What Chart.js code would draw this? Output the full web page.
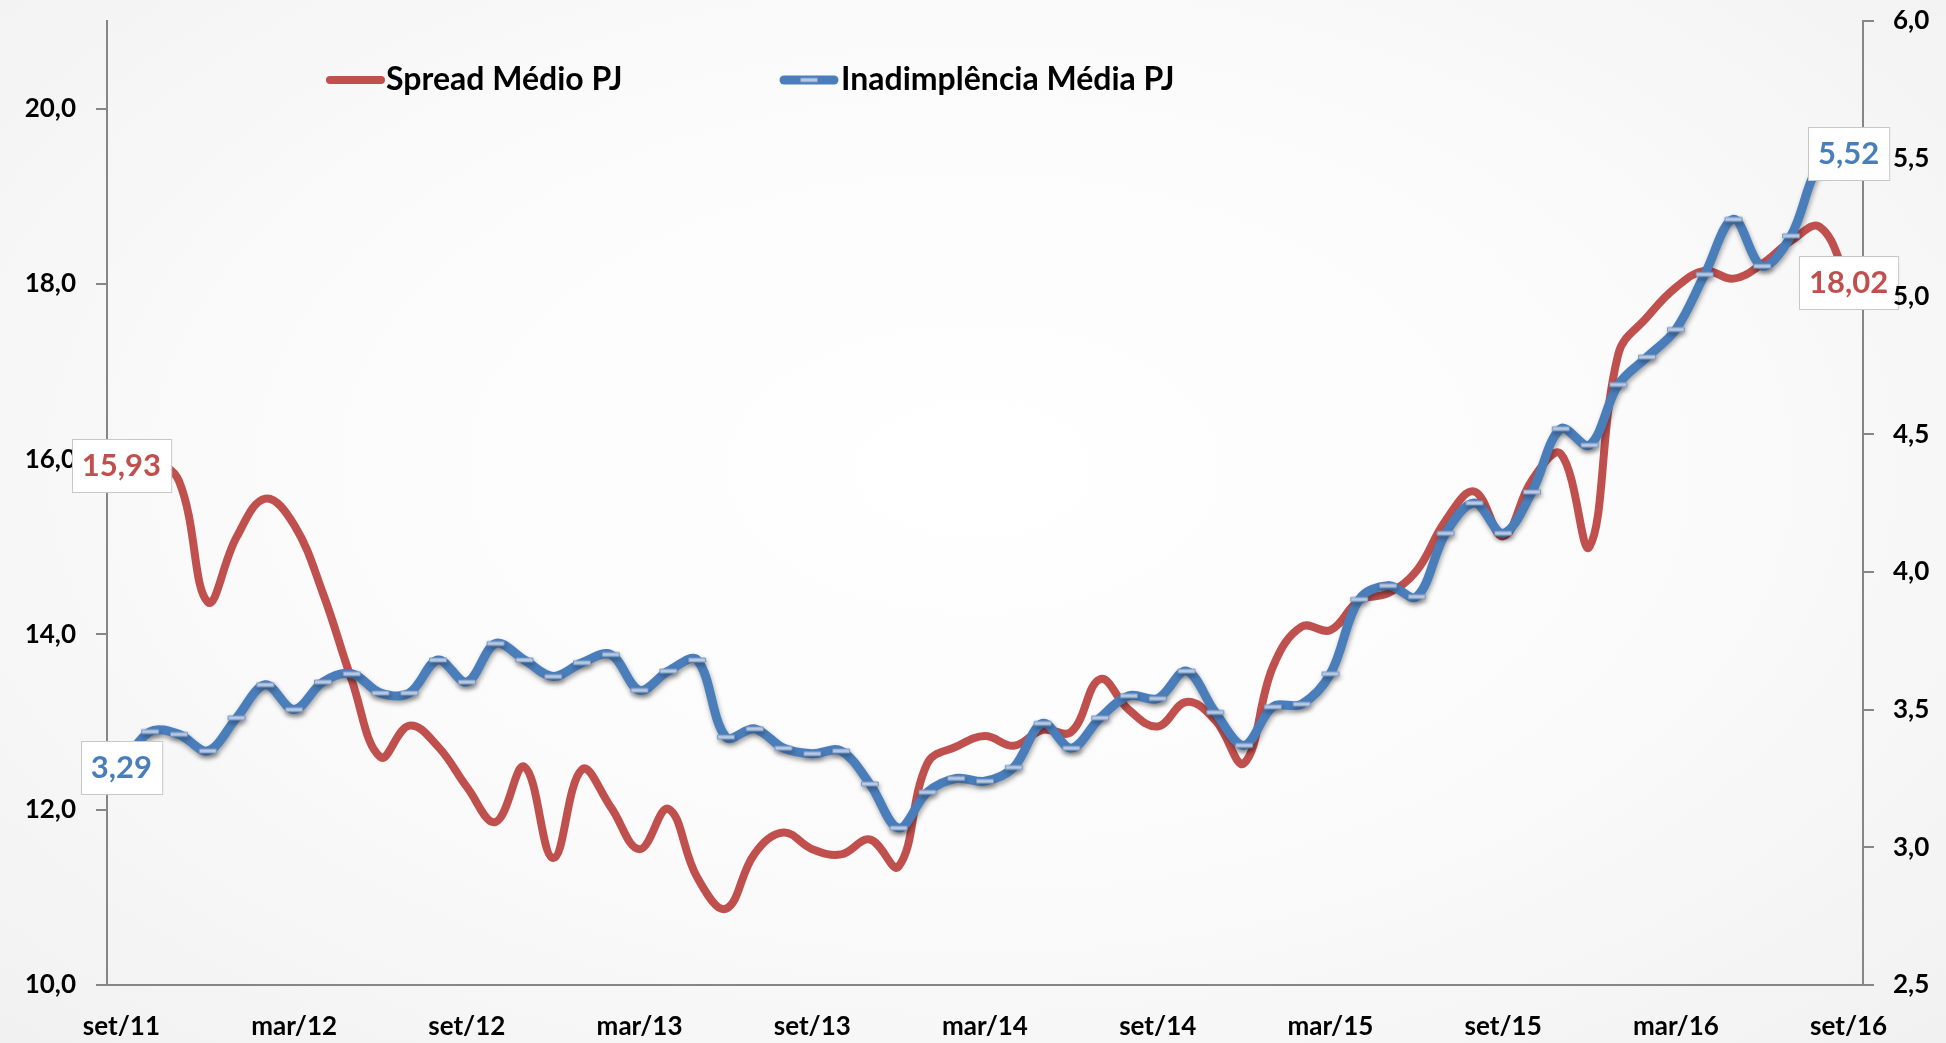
<!DOCTYPE html>
<html lang="pt-BR">
<head>
<meta charset="utf-8">
<title>Spread e Inadimplência Média PJ</title>
<script src="https://cdn.jsdelivr.net/npm/chart.js@4.4.1/dist/chart.umd.min.js"></script>
<style>
  html, body { margin: 0; padding: 0; background: #f4f4f4; }
  #wrap {
    position: relative; width: 1946px; height: 1043px;
    background: radial-gradient(ellipse at 50% 45%, #ffffff 0%, #fbfbfb 50%, #f1f1f1 100%);
  }
  #c { display: block; }
</style>
</head>
<body>
<div id="wrap"><canvas id="c" width="1946" height="1043"></canvas></div>
<script>
// Monthly categories, set/11 .. set/16
const categories = [
  'set/11','out/11','nov/11','dez/11',
  'jan/12','fev/12','mar/12','abr/12','mai/12','jun/12','jul/12','ago/12','set/12','out/12','nov/12','dez/12',
  'jan/13','fev/13','mar/13','abr/13','mai/13','jun/13','jul/13','ago/13','set/13','out/13','nov/13','dez/13',
  'jan/14','fev/14','mar/14','abr/14','mai/14','jun/14','jul/14','ago/14','set/14','out/14','nov/14','dez/14',
  'jan/15','fev/15','mar/15','abr/15','mai/15','jun/15','jul/15','ago/15','set/15','out/15','nov/15','dez/15',
  'jan/16','fev/16','mar/16','abr/16','mai/16','jun/16','jul/16','ago/16','set/16'
];

// Spread médio PJ (% a.a., left axis)
const spreadPJ = [
  15.93, 15.98, 15.75, 14.37, 15.11, 15.55, 15.25, 14.47, 13.48, 12.60,
  12.96, 12.72, 12.26, 11.86, 12.49, 11.45, 12.46, 12.03, 11.55, 12.01,
  11.23, 10.87, 11.50, 11.74, 11.55, 11.49, 11.66, 11.35, 12.53, 12.72,
  12.84, 12.73, 12.91, 12.89, 13.49, 13.14, 12.95, 13.23, 13.02, 12.53,
  13.63, 14.09, 14.05, 14.39, 14.47, 14.73, 15.30, 15.63, 15.12, 15.76,
  16.06, 15.00, 17.20, 17.62, 17.96, 18.15, 18.06, 18.23, 18.49, 18.65,
  18.02
];

// Inadimplência média PJ (%, right axis)
const inadPJ = [
  3.29, 3.42, 3.41, 3.35, 3.47, 3.59, 3.50, 3.60, 3.63, 3.56,
  3.56, 3.68, 3.60, 3.74, 3.68, 3.62, 3.67, 3.70, 3.57, 3.64,
  3.68, 3.40, 3.43, 3.36, 3.34, 3.35, 3.23, 3.07, 3.20, 3.25,
  3.24, 3.29, 3.45, 3.36, 3.47, 3.55, 3.54, 3.64, 3.49, 3.37,
  3.51, 3.52, 3.63, 3.90, 3.95, 3.91, 4.14, 4.25, 4.14, 4.29,
  4.52, 4.46, 4.68, 4.78, 4.88, 5.08, 5.28, 5.11, 5.22, 5.48,
  5.52
];

// Axis tick values and shown month labels
const leftTicks  = [10, 12, 14, 16, 18, 20];
const rightTicks = [2.5, 3.0, 3.5, 4.0, 4.5, 5.0, 5.5, 6.0];
const xTickLabels = ['set/11','mar/12','set/12','mar/13','set/13','mar/14','set/14','mar/15','set/15','mar/16','set/16'];

const seriesNames = ['Spread Médio PJ', 'Inadimplência Média PJ'];

const RED = '#c0504d';
const BLUE = '#4a7ebb';
const AXIS = '#868686';
const FONT = 'Lato, "Open Sans", sans-serif';

const fmt = v => v.toFixed(1).replace('.', ',');
const fmt2 = v => v.toFixed(2).replace('.', ',');

// dash-shaped marker for the blue series
function dashMarker() {
  const c = document.createElement('canvas');
  c.width = 22; c.height = 8;
  const g = c.getContext('2d');
  g.fillStyle = '#b7c9e3';
  g.strokeStyle = '#7898c4';
  g.lineWidth = 1;
  g.beginPath();
  g.rect(2.5, 2, 17, 4);
  g.fill();
  g.stroke();
  return c;
}
const marker = dashMarker();

// soft drop shadow under the blue line
const shadowPlugin = {
  id: 'lineShadow',
  beforeDatasetDraw(chart, args) {
    if (args.index !== 1) return;
    const ctx = chart.ctx;
    ctx.save();
    ctx.shadowColor = 'rgba(0,0,0,0.35)';
    ctx.shadowBlur = 5;
    ctx.shadowOffsetX = 1;
    ctx.shadowOffsetY = 3;
  },
  afterDatasetDraw(chart, args) {
    if (args.index !== 1) return;
    chart.ctx.restore();
  }
};

// legend inside the plot, top
const legendPlugin = {
  id: 'inlineLegend',
  afterDraw(chart) {
    const ctx = chart.ctx;
    ctx.save();
    ctx.lineCap = 'round';
    ctx.strokeStyle = RED; ctx.lineWidth = 8;
    ctx.beginPath(); ctx.moveTo(330, 80); ctx.lineTo(381, 80); ctx.stroke();
    ctx.strokeStyle = BLUE; ctx.lineWidth = 9;
    ctx.beginPath(); ctx.moveTo(784, 80); ctx.lineTo(834, 80); ctx.stroke();
    ctx.drawImage(marker, 809 - marker.width / 2, 80 - marker.height / 2);
    ctx.fillStyle = '#000';
    ctx.font = 'bold 32px ' + FONT;
    ctx.textBaseline = 'middle';
    ctx.textAlign = 'left';
    ctx.fillText(seriesNames[0], 386, 80);
    ctx.fillText(seriesNames[1], 841, 80);
    ctx.restore();
  }
};

// value boxes on the first and last points of each series
// (drawn right after the lines, so right-axis labels stay on top)
const endLabelPlugin = {
  id: 'endLabels',
  afterDatasetsDraw(chart) {
    const ctx = chart.ctx;
    ctx.save();
    ctx.font = 'bold 31px ' + FONT;
    ctx.textAlign = 'center';
    ctx.textBaseline = 'middle';
    chart.data.datasets.forEach((ds, di) => {
      const meta = chart.getDatasetMeta(di);
      [0, ds.data.length - 1].forEach(i => {
        const pt = meta.data[i];
        const txt = fmt2(ds.data[i]);
        const w = ctx.measureText(txt).width + 20;
        const h = 53;
        const x = Math.round(pt.x - w / 2) + 0.5;
        const y = Math.round(pt.y - h / 2) + 0.5;
        ctx.fillStyle = '#ffffff';
        ctx.fillRect(x, y, w, h);
        ctx.strokeStyle = '#c8c8c8';
        ctx.lineWidth = 1;
        ctx.strokeRect(x, y, w, h);
        ctx.fillStyle = ds.borderColor;
        ctx.fillText(txt, pt.x, pt.y + 1);
      });
    });
    ctx.restore();
  }
};

const tickFont = { family: FONT, size: 26, weight: 'bold' };

// vertical axes: fixed width, no extra top/bottom label padding
const fitY = width => s => { s.width = width; s.paddingTop = 0; s.paddingBottom = 0; };

new Chart(document.getElementById('c'), {
  type: 'line',
  data: {
    labels: categories,
    datasets: [
      {
        label: seriesNames[0],
        data: spreadPJ,
        yAxisID: 'yL',
        borderColor: RED,
        borderWidth: 8,
        pointRadius: 0,
        tension: 0.4,
        borderCapStyle: 'round',
        borderJoinStyle: 'round',
        order: 1
      },
      {
        label: seriesNames[1],
        data: inadPJ,
        yAxisID: 'yR',
        borderColor: BLUE,
        borderWidth: 9,
        pointStyle: marker,
        pointRadius: 9,
        tension: 0.35,
        borderCapStyle: 'round',
        borderJoinStyle: 'round',
        order: 0
      }
    ]
  },
  options: {
    responsive: false,
    animation: false,
    events: [],
    layout: { padding: { top: 21, left: 0, right: 0, bottom: 0 } },
    plugins: { legend: { display: false }, tooltip: { enabled: false } },
    scales: {
      x: {
        type: 'category',
        offset: true,
        grid: { display: false, drawTicks: false },
        border: { display: true, color: AXIS, width: 2 },
        ticks: {
          autoSkip: false, maxRotation: 0, minRotation: 0,
          padding: 26, color: '#000', font: tickFont,
          callback: (v, i) => xTickLabels.includes(categories[i]) ? categories[i] : ''
        },
        afterFit: s => { s.height = 58; s.paddingLeft = 0; s.paddingRight = 0; }
      },
      yL: {
        position: 'left',
        min: 10, max: 21,
        afterBuildTicks: s => { s.ticks = leftTicks.map(v => ({ value: v })); },
        grid: { drawOnChartArea: false, drawTicks: true, tickLength: 11, color: AXIS, lineWidth: 2 },
        border: { display: true, color: AXIS, width: 2 },
        ticks: { padding: 20, color: '#000', font: tickFont, callback: v => fmt(v) },
        afterFit: fitY(107)
      },
      yR: {
        position: 'right',
        min: 2.5, max: 6.0,
        afterBuildTicks: s => { s.ticks = rightTicks.map(v => ({ value: v })); },
        grid: { drawOnChartArea: false, drawTicks: true, tickLength: 11, color: AXIS, lineWidth: 2 },
        border: { display: true, color: AXIS, width: 2 },
        ticks: { z: 1, padding: 19, color: '#000', font: tickFont, callback: v => fmt(v) },
        afterFit: fitY(83)
      }
    }
  },
  plugins: [shadowPlugin, legendPlugin, endLabelPlugin]
});
</script>
</body>
</html>
